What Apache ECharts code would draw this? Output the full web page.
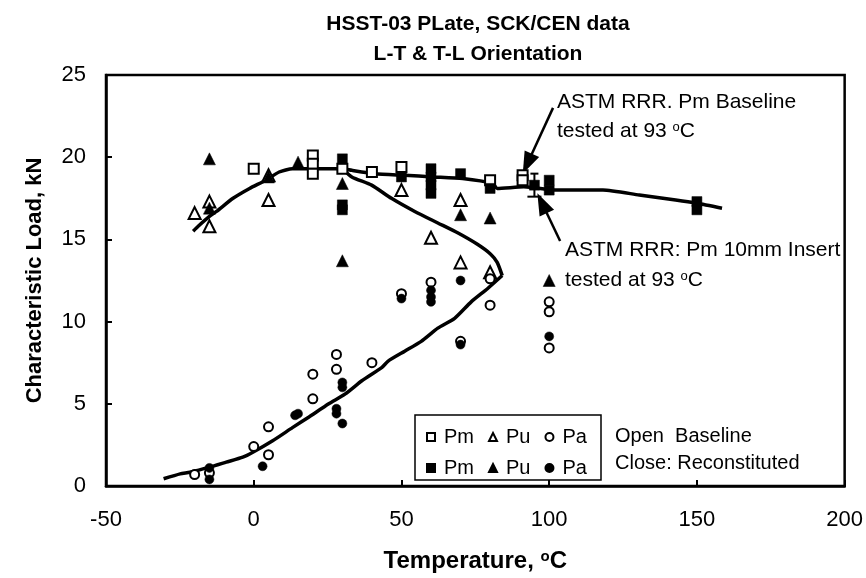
<!DOCTYPE html>
<html>
<head>
<meta charset="utf-8">
<script src="https://cdn.jsdelivr.net/npm/echarts/dist/echarts.min.js"></script>
<style>
html, body { margin: 0; padding: 0; background: #fff; }
#chart { width: 866px; height: 578px; }
</style>
</head>
<body>
<div id="chart"></div>
<script>
// Characteristic load vs. test temperature, HSST-03 plate (SCK/CEN).
// Open symbols: baseline specimens. Filled symbols: reconstituted specimens.

const xTicks = [-50, 0, 50, 100, 150, 200];
const yTicks = [0, 5, 10, 15, 20, 25];

// Pm (maximum load)
const openPmT = [0, 20, 20, 20, 30, 40, 50, 80, 91, 91];
const openPmK = [19.3, 20.1, 19.6, 19.0, 19.3, 19.1, 19.4, 18.6, 18.9, 18.6];
const filledPmT = [30, 30, 30, 50, 60, 60, 60, 60, 70, 80, 95, 100, 100, 150, 150];
const filledPmK = [19.9, 17.1, 16.8, 18.8, 19.3, 18.8, 18.3, 17.8, 19.0, 18.1, 18.3, 18.6, 18.0, 17.3, 16.8];

// Pu (load at unstable crack extension)
const openPuT = [-20, -15, -15, 5, 5, 50, 60, 70, 70, 80];
const openPuK = [16.6, 17.3, 15.8, 17.4, 18.9, 18.0, 15.1, 17.4, 13.6, 13.0];
const filledPuT = [-15, -15, 5, 15, 30, 30, 70, 80, 100];
const filledPuK = [19.9, 16.9, 18.8, 19.7, 18.4, 13.7, 16.5, 16.3, 12.5];

// Pa (crack arrest load)
const openPaT = [-20, -15, 0, 5, 5, 20, 20, 28, 28, 40, 50, 60, 70, 80, 80, 100, 100, 100];
const openPaK = [0.7, 0.8, 2.4, 1.9, 3.6, 6.8, 5.3, 8.0, 7.1, 7.5, 11.7, 12.4, 8.8, 11.0, 12.6, 11.2, 10.6, 8.4];
const filledPaT = [-15, -15, 3, 14, 15, 28, 28, 30, 30, 30, 50, 60, 60, 60, 70, 70, 100];
const filledPaK = [1.1, 0.4, 1.2, 4.3, 4.4, 4.7, 4.4, 6.3, 6.0, 3.8, 11.4, 11.9, 11.5, 11.2, 12.5, 8.6, 9.1];

// Trend curves
const upperCurveT = [-20.5, -18.8, -15, -12.6, -7, -1.4, 4.1, 8.6, 13.1, 20.9, 30, 33.2, 41, 51.1, 60.6, 70.7, 80.8, 82.4, 91.4, 102.6, 118.2, 130.5, 142.8, 150, 158.5];
const upperCurveK = [15.5, 15.8, 16.4, 16.7, 17.5, 18.1, 18.6, 19.1, 19.3, 19.3, 19.3, 19.2, 19.0, 18.9, 18.8, 18.7, 18.4, 18.1, 18.2, 18.0, 18.0, 17.7, 17.4, 17.2, 16.9];
const kneeCurveT = [30, 33.2, 39.9, 46.6, 54.5, 62.3, 69, 75.7, 80.2, 82.4, 84.1];
const kneeCurveK = [19.3, 18.8, 18.3, 17.5, 16.7, 16.0, 15.4, 14.7, 14.1, 13.6, 12.8];
const lowerCurveT = [-30.5, -24.9, -21.6, -14.9, -9.3, -3.7, -0.3, 6.4, 13.1, 18.7, 25.4, 31, 36.6, 43.3, 45.5, 51.1, 56.7, 62.3, 68, 73.6, 79.1, 84.1];
const lowerCurveK = [0.44, 0.74, 0.84, 1.15, 1.45, 1.75, 2.05, 2.75, 3.55, 4.2, 5.0, 5.6, 6.4, 7.2, 7.6, 8.2, 8.8, 9.6, 10.2, 11.2, 12.0, 12.8];

// ASTM round-robin 10 mm insert result with its scatter band
const insertT = [95];
const insertLow = [17.6];
const insertHigh = [19.0];

// Arrow endpoints for the two round-robin call-outs [T, kN]
const baselineArrow = [[101.3, 23.0], [92.6, 19.6]];
const insertArrow = [[103.7, 14.9], [97.6, 17.2]];

const pairs = (t, k) => t.map((v, i) => [v, k[i]]);
const FONT = '"Liberation Sans", Arial, sans-serif';

function scatter(name, t, k, symbol, size, filled) {
  return {
    name: name, type: 'scatter', z: 5,
    symbol: symbol, symbolSize: size,
    data: pairs(t, k),
    itemStyle: filled
      ? { color: '#000', borderColor: '#000', borderWidth: 0.5, opacity: 1 }
      : { color: '#fff', borderColor: '#000', borderWidth: 2, opacity: 1 },
    emphasis: { disabled: true }
  };
}

function curve(t, k) {
  return {
    type: 'line', data: pairs(t, k), showSymbol: false, symbol: 'none',
    smooth: 0.2, z: 3,
    lineStyle: { color: '#000', width: 3.5 },
    emphasis: { disabled: true }, silent: true
  };
}

function arrow(ends) {
  return [{ coord: ends[0] }, { coord: ends[1] }];
}

const chart = echarts.init(document.getElementById('chart'), null, { renderer: 'canvas' });

const supRich = {
  a: { fontSize: 21, fontFamily: FONT, color: '#000' },
  s: { fontSize: 13, fontFamily: FONT, color: '#000', verticalAlign: 'top' }
};

const legendText = { fontFamily: FONT, fontSize: 20, color: '#000', padding: [0, 0, 0, 4] };

const option = {
  backgroundColor: '#fff',
  animation: false,
  title: {
    text: 'HSST-03 PLate, SCK/CEN data\nL-T & T-L Orientation',
    left: 473, top: 4, textAlign: 'center',
    textStyle: { fontFamily: FONT, fontSize: 21, fontWeight: 'bold', color: '#000', lineHeight: 30 }
  },
  grid: {
    left: 106, right: 19, top: 75, bottom: 88,
    show: true, borderColor: '#000', borderWidth: 2.5, backgroundColor: 'transparent'
  },
  xAxis: {
    type: 'value', min: xTicks[0], max: xTicks[xTicks.length - 1], interval: 50,
    name: '{b|Temperature, }{t|o}{b|C}', nameLocation: 'middle', nameGap: 63,
    nameTextStyle: {
      rich: {
        b: { fontFamily: FONT, fontSize: 24, fontWeight: 'bold', color: '#000' },
        t: { fontFamily: FONT, fontSize: 15, fontWeight: 'bold', color: '#000', verticalAlign: 'top' }
      }
    },
    axisLine: { onZero: false, lineStyle: { color: '#000', width: 2.5 } },
    axisTick: { inside: true, length: 6, lineStyle: { color: '#000', width: 2 } },
    axisLabel: { margin: 23, fontFamily: FONT, fontSize: 22, color: '#000' },
    splitLine: { show: false }
  },
  yAxis: {
    type: 'value', min: yTicks[0], max: yTicks[yTicks.length - 1], interval: 5,
    name: 'Characteristic Load, kN', nameLocation: 'middle', nameGap: 60,
    nameTextStyle: { fontFamily: FONT, fontSize: 22, fontWeight: 'bold', color: '#000' },
    axisLine: { onZero: false, lineStyle: { color: '#000', width: 2.5 } },
    axisTick: { inside: true, length: 6, lineStyle: { color: '#000', width: 2 } },
    axisLabel: { margin: 20, fontFamily: FONT, fontSize: 22, color: '#000' },
    splitLine: { show: false }
  },
  legend: [
    {
      data: ['Pm open', 'Pu open', 'Pa open'],
      left: 421, top: 422, itemGap: 14, itemWidth: 8, itemHeight: 8,
      selectedMode: false, formatter: n => n.split(' ')[0],
      textStyle: legendText
    },
    {
      data: ['Pm filled', 'Pu filled', 'Pa filled'],
      left: 421, top: 453, itemGap: 14, itemWidth: 8, itemHeight: 8,
      selectedMode: false, formatter: n => n.split(' ')[0],
      textStyle: legendText
    }
  ],
  graphic: [
    { type: 'rect', shape: { x: 415, y: 415, width: 186, height: 65 },
      style: { fill: 'none', stroke: '#000', lineWidth: 1.5 }, z: 10 },
    { type: 'text', x: 557, y: 102, z: 10,
      style: { text: 'ASTM RRR. Pm Baseline', font: '21px ' + FONT, fill: '#000', verticalAlign: 'middle' } },
    { type: 'text', x: 557, y: 131, z: 10,
      style: { text: '{a|tested at 93 }{s|o}{a|C}', rich: supRich, verticalAlign: 'middle' } },
    { type: 'text', x: 565, y: 250, z: 10,
      style: { text: 'ASTM RRR: Pm 10mm Insert', font: '21px ' + FONT, fill: '#000', verticalAlign: 'middle' } },
    { type: 'text', x: 565, y: 280, z: 10,
      style: { text: '{a|tested at 93 }{s|o}{a|C}', rich: supRich, verticalAlign: 'middle' } },
    { type: 'text', x: 615, y: 436, z: 10,
      style: { text: 'Open  Baseline', font: '20px ' + FONT, fill: '#000', verticalAlign: 'middle' } },
    { type: 'text', x: 615, y: 463, z: 10,
      style: { text: 'Close: Reconstituted', font: '20px ' + FONT, fill: '#000', verticalAlign: 'middle' } }
  ],
  series: [
    curve(upperCurveT, upperCurveK),
    curve(kneeCurveT, kneeCurveK),
    curve(lowerCurveT, lowerCurveK),
    scatter('Pm open', openPmT, openPmK, 'rect', 10, false),
    scatter('Pu open', openPuT, openPuK, 'triangle', 12, false),
    scatter('Pa open', openPaT, openPaK, 'circle', 9, false),
    scatter('Pm filled', filledPmT, filledPmK, 'rect', 10, true),
    scatter('Pu filled', filledPuT, filledPuK, 'triangle', 12, true),
    scatter('Pa filled', filledPaT, filledPaK, 'circle', 9, true),
    {
      type: 'custom', z: 6, silent: true,
      data: insertT.map((t, i) => [t, insertLow[i], insertHigh[i]]),
      renderItem: function (params, api) {
        const lo = api.coord([api.value(0), api.value(1)]);
        const hi = api.coord([api.value(0), api.value(2)]);
        const st = { stroke: '#000', lineWidth: 2 };
        return {
          type: 'group',
          children: [
            { type: 'line', shape: { x1: lo[0], y1: lo[1], x2: hi[0], y2: hi[1] }, style: st },
            { type: 'line', shape: { x1: lo[0] - 7, y1: lo[1], x2: lo[0] + 7, y2: lo[1] }, style: st },
            { type: 'line', shape: { x1: hi[0] - 4, y1: hi[1], x2: hi[0] + 4, y2: hi[1] }, style: st }
          ]
        };
      }
    },
    {
      type: 'line', data: [], silent: true,
      markLine: {
        silent: true, symbol: ['none', 'triangle'], symbolSize: [16, 22],
        label: { show: false },
        lineStyle: { color: '#000', width: 2.5, type: 'solid' },
        data: [arrow(baselineArrow), arrow(insertArrow)]
      }
    }
  ]
};

chart.setOption(option);
</script>
</body>
</html>
